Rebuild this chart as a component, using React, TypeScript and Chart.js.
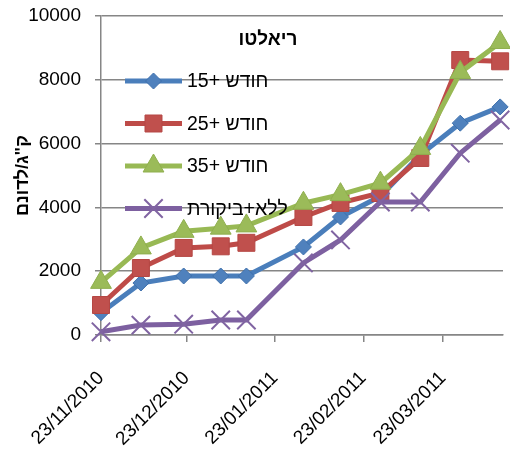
import React, { useEffect, useRef } from "react";
import { Chart, registerables } from "chart.js";
import { drawPoint } from "chart.js/helpers";

Chart.register(...registerables);

// ---- data ----
const sampleDates = [
  "2010-11-23", "2010-12-07", "2010-12-22", "2011-01-04", "2011-01-13",
  "2011-02-02", "2011-02-15", "2011-03-01", "2011-03-15", "2011-03-29", "2011-04-12",
];
const series15 = [700, 1630, 1850, 1850, 1850, 2760, 3700, 4350, 5650, 6640, 7150];
const series25 = [940, 2100, 2730, 2780, 2890, 3700, 4140, 4450, 5550, 8620, 8580];
const series35 = [1650, 2730, 3250, 3350, 3420, 4130, 4400, 4760, 5850, 8230, 9170];
const seriesControl = [100, 310, 340, 470, 470, 2260, 2980, 4170, 4170, 5700, 6740];
const seriesLabels = ["חודש +15", "חודש +25", "חודש +35", "ללא+ביקורת"];
const xTickDates = ["2010-11-23", "2010-12-23", "2011-01-23", "2011-02-23", "2011-03-23"];
const axisStartDate = "2010-11-23";
const axisEndDate = "2011-04-13";
const yTickValues = [0, 2000, 4000, 6000, 8000, 10000];
const legendTitle = "ריאלטו";
const yAxisTitle = "ק\"ג/לדונם";

const DAY = 86400000;
const dayOf = (d: string) => (Date.parse(d) - Date.parse(axisStartDate)) / DAY;
const fmtDate = (d: string) => {
  const [y, m, dd] = d.split("-");
  return `${dd}/${m}/${y}`;
};

const FONT = '"Liberation Sans", Arial, sans-serif';
const GRID = "#868686";

const legendPlugin = {
  id: "insideLegend",
  afterDatasetsDraw(chart: any) {
    const { ctx, chartArea } = chart;
    ctx.save();
    ctx.fillStyle = "#000";
    ctx.font = `bold 19px ${FONT}`;
    ctx.textAlign = "center";
    ctx.textBaseline = "middle";
    ctx.fillText(legendTitle, chartArea.left + 167, chartArea.top + 24);
    const x0 = chartArea.left + 24;
    const x1 = chartArea.left + 81;
    chart.data.datasets.forEach((ds: any, i: number) => {
      const y = chartArea.top + 65 + i * 42.5;
      ctx.strokeStyle = ds.borderColor;
      ctx.lineWidth = ds.borderWidth;
      ctx.lineCap = "butt";
      ctx.beginPath();
      ctx.moveTo(x0, y);
      ctx.lineTo(x1, y);
      ctx.stroke();
      ctx.fillStyle = ds.pointBackgroundColor;
      ctx.strokeStyle = ds.pointBorderColor;
      ctx.lineWidth = ds.pointBorderWidth;
      drawPoint(ctx, { pointStyle: ds.pointStyle, radius: ds.pointRadius, rotation: 0, borderWidth: ds.pointBorderWidth }, (x0 + x1) / 2, y);
      ctx.fillStyle = "#000";
      ctx.font = `19.5px ${FONT}`;
      ctx.textAlign = "left";
      ctx.textBaseline = "middle";
      ctx.fillText(ds.label, x1 + 5, y + 1);
    });
    ctx.restore();
  },
};

export default function App() {
  const ref = useRef<HTMLCanvasElement>(null);
  useEffect(() => {
    document.body.style.margin = "0";
    const toPts = (vals: number[]) => vals.map((v, i) => ({ x: dayOf(sampleDates[i]), y: v }));
    const mk = (label: string, vals: number[], line: string, fill: string, edge: string, style: string, r: number, pbw: number, order: number) => ({
      label,
      data: toPts(vals),
      borderColor: line,
      borderWidth: 5,
      pointStyle: style,
      pointRadius: r,
      pointBackgroundColor: fill,
      pointBorderColor: edge,
      pointBorderWidth: pbw,
      tension: 0,
      clip: false,
      order,
    });
    const chart = new Chart(ref.current!, {
      type: "line",
      data: {
        datasets: [
          mk(seriesLabels[0], series15, "#4A7EBB", "#4F81BD", "#3E70AC", "rectRot", 8, 1, 4),
          mk(seriesLabels[1], series25, "#BE4B48", "#C0504D", "#B54744", "rect", 12, 1, 3),
          mk(seriesLabels[2], series35, "#98B954", "#9BBB59", "#8FAF4E", "triangle", 12, 1, 2),
          mk(seriesLabels[3], seriesControl, "#7D60A0", "#8064A2", "#8064A2", "crossRot", 13, 2, 1),
        ] as any,
      },
      options: {
        animation: false,
        responsive: false,
        maintainAspectRatio: false,
        layout: { autoPadding: false, padding: { top: 16, right: 7, left: 0, bottom: 0 } },
        plugins: { legend: { display: false }, tooltip: { enabled: false } },
        scales: {
          x: {
            type: "linear",
            min: 0,
            max: dayOf(axisEndDate),
            afterBuildTicks: (s: any) => {
              s.ticks = xTickDates.map((d) => ({ value: dayOf(d) }));
            },
            afterFit: (s: any) => {
              s.height = 121;
              s.paddingLeft = 0;
              s.paddingRight = 0;
            },
            ticks: {
              autoSkip: false,
              minRotation: 45,
              maxRotation: 45,
              padding: 25,
              color: "#000",
              font: { family: FONT, size: 19 },
              callback: (v: any, i: number) => fmtDate(xTickDates[i]),
            },
            grid: { display: true, drawOnChartArea: false, drawTicks: true, tickLength: 7, color: GRID, lineWidth: 1.5 },
            border: { display: true, color: GRID, width: 1.5 },
          },
          y: {
            min: 0,
            max: 10000,
            afterBuildTicks: (s: any) => {
              s.ticks = yTickValues.map((v) => ({ value: v }));
            },
            afterFit: (s: any) => {
              s.width = 101;
              s.paddingTop = 0;
              s.paddingBottom = 0;
            },
            ticks: {
              padding: 14,
              color: "#000",
              font: { family: FONT, size: 19 },
              callback: (v: any) => String(v),
            },
            grid: { color: GRID, lineWidth: 1.5, tickLength: 6 },
            border: { display: true, color: GRID, width: 1.5 },
            title: {
              display: true,
              text: yAxisTitle,
              color: "#000",
              font: { family: FONT, size: 18, weight: "bold" },
              padding: { top: 12, bottom: 0 },
            },
          },
        },
      },
      plugins: [legendPlugin],
    } as any);
    return () => chart.destroy();
  }, []);
  return <canvas ref={ref} width={510} height={456} style={{ display: "block" }} />;
}
